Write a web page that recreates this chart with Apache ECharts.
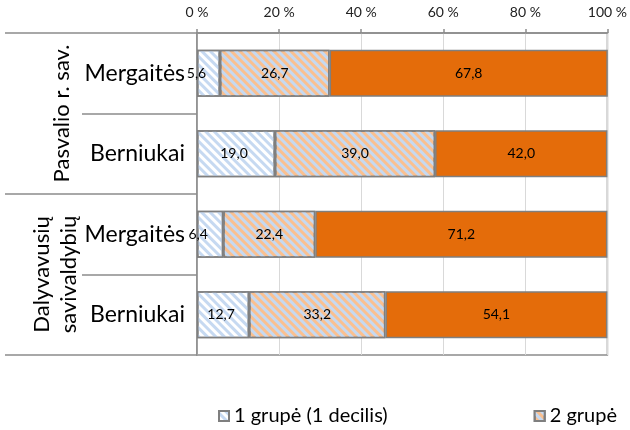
<!DOCTYPE html>
<html><head><meta charset="utf-8">
<script src="https://cdn.jsdelivr.net/npm/echarts@6/dist/echarts.min.js"></script>
<style>html,body{margin:0;padding:0;background:#fff}#c{width:630px;height:430px}</style>
</head><body><div id="c"></div>
<script>
const categories = ['Mergaitės', 'Berniukai', 'Mergaitės', 'Berniukai'];
const groups = ['Pasvalio r. sav.', 'Dalyvavusių\nsavivaldybių'];
const seriesNames = ['1 grupė (1 decilis)', '2 grupė', '3 grupė'];
const group1 = [5.6, 19.0, 6.4, 12.7];
const group2 = [26.7, 39.0, 22.4, 33.2];
const group3 = [67.8, 42.0, 71.2, 54.1];
const xTicks = [0, 20, 40, 60, 80, 100];

const FONT = 'Lato, "Open Sans", sans-serif';
const fmt = p => p.value.toFixed(1).replace('.', ',');
const border = { borderColor: '#7f7f7f', borderWidth: 1.5 };
const stripe = c => ({ symbol: 'rect', symbolSize: 1, dashArrayX: [1, 0], dashArrayY: [3, 3], rotation: Math.PI / 4, color: c });
// multi-line group labels get a smaller padding so both groups sit centred in the left column
const groupData = groups.map(g => g.indexOf('\n') >= 0 ? { value: g, textStyle: { padding: [0, 0, 7, 0] } } : g);

const chart = echarts.init(document.getElementById('c'), null, { renderer: 'canvas' });
chart.setOption({
  animation: false,
  textStyle: { fontFamily: FONT },
  grid: { left: 197, right: 20, top: 33, bottom: 75, show: true, borderColor: '#8c8c8c', borderWidth: 1.5 },
  legend: {
    data: seriesNames.slice(0, 2),
    left: 213, top: 401, itemGap: 146, itemWidth: 10, itemHeight: 10,
    textStyle: { fontSize: 20, color: '#000', fontFamily: FONT },
    icon: 'rect'
  },
  xAxis: {
    type: 'value', position: 'top', min: xTicks[0], max: xTicks[xTicks.length - 1], interval: 20,
    axisLine: { show: true, lineStyle: { color: '#8c8c8c', width: 1.5 } },
    axisTick: { show: true, length: 4, lineStyle: { color: '#8c8c8c', width: 1.5 } },
    axisLabel: { formatter: v => v + ' %', fontSize: 14, color: '#222', margin: 14 },
    splitLine: { show: true, lineStyle: { color: '#d9d9d9', width: 1 } }
  },
  yAxis: [{
    type: 'category', data: categories, inverse: true,
    axisLine: { show: true, lineStyle: { color: '#8c8c8c', width: 1.5 } },
    axisTick: { show: true, length: 115, interval: 0, lineStyle: { color: '#8c8c8c', width: 1.5 } },
    axisLabel: { fontSize: 23, color: '#000', margin: 12, interval: 0 }
  }, {
    type: 'category', data: groupData, inverse: true, position: 'left',
    axisLine: { show: false },
    axisTick: { show: true, length: 192, interval: 0, lineStyle: { color: '#8c8c8c', width: 1.5 } },
    axisLabel: { fontSize: 22, color: '#000', rotate: 90, margin: 108, lineHeight: 27, padding: [0, 0, 14, 0], align: 'center', verticalAlign: 'bottom', interval: 0, hideOverlap: false }
  }],
  series: [
    { name: seriesNames[0], type: 'bar', stack: 't', barWidth: 47, data: group1.map(v => ({ value: v, label: { offset: v < 10 ? [-12, 0] : [-2, 0] } })),
      itemStyle: Object.assign({ color: '#ffffff', decal: stripe('#c6d9f1') }, border),
      label: { show: true, position: 'inside', formatter: fmt, fontSize: 14, color: '#000' } },
    { name: seriesNames[1], type: 'bar', stack: 't', barWidth: 47, data: group2,
      itemStyle: Object.assign({ color: '#fac090', decal: stripe('#c6d9f1') }, border),
      label: { show: true, position: 'inside', formatter: fmt, fontSize: 14, color: '#000' } },
    { name: seriesNames[2], type: 'bar', stack: 't', barWidth: 47, data: group3,
      itemStyle: Object.assign({ color: '#e46c0a' }, border),
      label: { show: true, position: 'inside', formatter: fmt, fontSize: 14, color: '#000' } }
  ]
});
</script></body></html>
